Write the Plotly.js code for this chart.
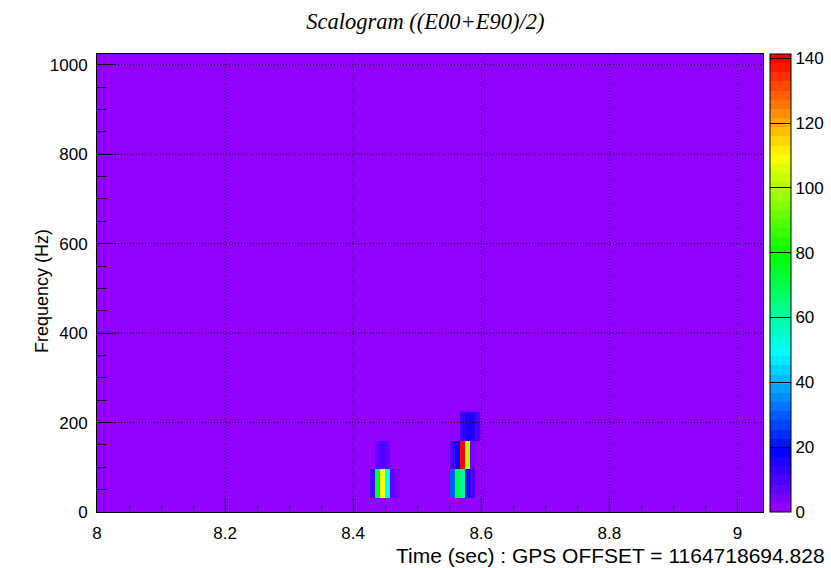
<!DOCTYPE html>
<html><head><meta charset="utf-8">
<script src="https://cdn.plot.ly/plotly-3.0.1.min.js"></script>
<style>html,body{margin:0;padding:0;background:#fff}</style>
</head><body>
<div id="chart" style="width:831px;height:568px"></div>
<script>
// Grid of the scalogram: time bins 1/128 s wide (centred on k/128 s), frequency bins 64 Hz wide
const timeBinWidth = 1 / 128;
const firstTimeBin = 1024;          // t = 8.0 s
const lastTimeBin = 1158;           // t ~ 9.05 s
const freqBinWidth = 64;
const nFreqBins = 17;               // 0 ... 1024 Hz
const backgroundEnergy = 0;

// Cells above background
const cellTimeBin = [1079, 1080, 1081, 1082, 1083, 1084,
                     1080, 1081, 1082,
                     1095, 1096, 1097, 1098, 1099,
                     1095, 1096, 1097, 1098, 1099,
                     1097, 1098, 1099, 1100];
const cellFreqBin = [1, 1, 1, 1, 1, 1,
                     2, 2, 2,
                     1, 1, 1, 1, 1,
                     2, 2, 2, 2, 2,
                     3, 3, 3, 3];
const cellEnergy  = [11, 75, 108, 49, 6, 4,
                     6, 9, 6,
                     30, 72, 60, 22, 10,
                     10, 17, 141.3, 100, 3,
                     12, 15, 16, 9];

const xTicks = [8, 8.2, 8.4, 8.6, 8.8, 9];
const yTicks = [0, 200, 400, 600, 800, 1000];
const cbTicks = [0, 20, 40, 60, 80, 100, 120, 140];

// z matrix
const nTime = lastTimeBin - firstTimeBin + 1;
const z = [];
for (let j = 0; j < nFreqBins; j++) {
  const row = [];
  for (let i = 0; i < nTime; i++) row.push(backgroundEnergy);
  z.push(row);
}
for (let k = 0; k < cellEnergy.length; k++) {
  z[cellFreqBin[k]][cellTimeBin[k] - firstTimeBin] = cellEnergy[k];
}

// ROOT "pretty" palette: 50 colours, HLS with L=0.5, S=1, hue 280 -> 0
function hls(h) {
  h = ((h % 360) + 360) % 360;
  let r, g, b;
  const s = h / 60;
  if (s < 1) { r = 1; g = s; b = 0; }
  else if (s < 2) { r = 2 - s; g = 1; b = 0; }
  else if (s < 3) { r = 0; g = 1; b = s - 2; }
  else if (s < 4) { r = 0; g = 4 - s; b = 1; }
  else if (s < 5) { r = s - 4; g = 0; b = 1; }
  else { r = 1; g = 0; b = 6 - s; }
  return 'rgb(' + Math.round(r * 255) + ',' + Math.round(g * 255) + ',' + Math.round(b * 255) + ')';
}
const nCol = 50;
const colorscale = [];
for (let i = 0; i < nCol; i++) {
  const c = hls(280 - (i + 1) * (280 / nCol));
  colorscale.push([i / nCol, c]);
  colorscale.push([(i + 1) / nCol, c]);
}

const zmax = Math.max.apply(null, cellEnergy);

const trace = {
  type: 'heatmap',
  z: z,
  x0: firstTimeBin * timeBinWidth,
  dx: timeBinWidth,
  y0: 0,
  dy: freqBinWidth,
  zmin: 0,
  zmax: zmax,
  zsmooth: false,
  colorscale: colorscale,
  hoverinfo: 'skip',
  colorbar: {
    x: 1.0112, xanchor: 'left', xpad: 0,
    y: 0.5, yanchor: 'middle', ypad: 0,
    len: 1, lenmode: 'fraction',
    thickness: 21, thicknessmode: 'pixels',
    outlinecolor: '#000', outlinewidth: 1,
    tickmode: 'array', tickvals: cbTicks,
    ticks: 'inside', ticklen: 21, tickcolor: '#000', tickwidth: 1,
    tickfont: {family: 'Liberation Sans, Arial, sans-serif', size: 17, color: '#000'},
    ticklabelstandoff: 2
  }
};

const gridShapes = [];
xTicks.slice(1).forEach(v => gridShapes.push({
  type: 'line', xref: 'x', yref: 'paper', x0: v, x1: v, y0: 0, y1: 1,
  line: {color: '#000', width: 1, dash: '1px,2px'}, layer: 'above'
}));
yTicks.slice(1).forEach(v => gridShapes.push({
  type: 'line', xref: 'paper', yref: 'y', x0: 0, x1: 1, y0: v, y1: v,
  line: {color: '#000', width: 1, dash: '1px,2px'}, layer: 'above'
}));

const font = 'Liberation Sans, Arial, Helvetica, sans-serif';
const layout = {
  width: 831, height: 568,
  margin: {l: 97, r: 68, t: 54, b: 56, pad: 0, autoexpand: false},
  paper_bgcolor: '#fff', plot_bgcolor: '#fff',
  showlegend: false,
  title: {
    text: '<i>Scalogram ((E00+E90)/2)</i>',
    font: {family: 'Liberation Serif, Times New Roman, serif', size: 22.5, color: '#000'},
    xref: 'paper', x: 0.493, xanchor: 'center',
    yref: 'container', y: 0.962, yanchor: 'middle'
  },
  xaxis: {
    range: [8, 9.04], autorange: false,
    tickmode: 'array', tickvals: xTicks,
    ticks: 'inside', ticklen: 14, tickcolor: '#000', tickwidth: 1,
    minor: {ticks: 'inside', ticklen: 7, dtick: 0.05, tick0: 8, tickcolor: '#000', showgrid: false},
    showgrid: false, zeroline: false,
    showline: true, linecolor: '#000', linewidth: 1, mirror: true,
    layer: 'above traces',
    tickfont: {family: font, size: 17, color: '#000'},
    ticklabelstandoff: 6
  },
  yaxis: {
    range: [0, 1024], autorange: false,
    tickmode: 'array', tickvals: yTicks,
    ticks: 'inside', ticklen: 19, tickcolor: '#000', tickwidth: 1,
    minor: {ticks: 'inside', ticklen: 9, dtick: 50, tick0: 0, tickcolor: '#000', showgrid: false},
    showgrid: false, zeroline: false,
    showline: true, linecolor: '#000', linewidth: 1, mirror: true,
    layer: 'above traces',
    tickfont: {family: font, size: 17, color: '#000'},
    ticklabelstandoff: 5
  },
  shapes: gridShapes,
  annotations: [
    {text: 'Time (sec) : GPS OFFSET = 1164718694.828', showarrow: false,
     xref: 'paper', yref: 'paper', x: 1.0956, xanchor: 'right', y: -0.094, yanchor: 'middle',
     font: {family: font, size: 21, color: '#000'}},
    {text: 'Frequency (Hz)', showarrow: false, textangle: -90,
     xref: 'paper', yref: 'paper', x: -0.0825, xanchor: 'center', y: 0.4825, yanchor: 'middle',
     font: {family: font, size: 18, color: '#000'}}
  ]
};

Plotly.newPlot('chart', [trace], layout, {displayModeBar: false, staticPlot: true});
</script>
</body></html>
